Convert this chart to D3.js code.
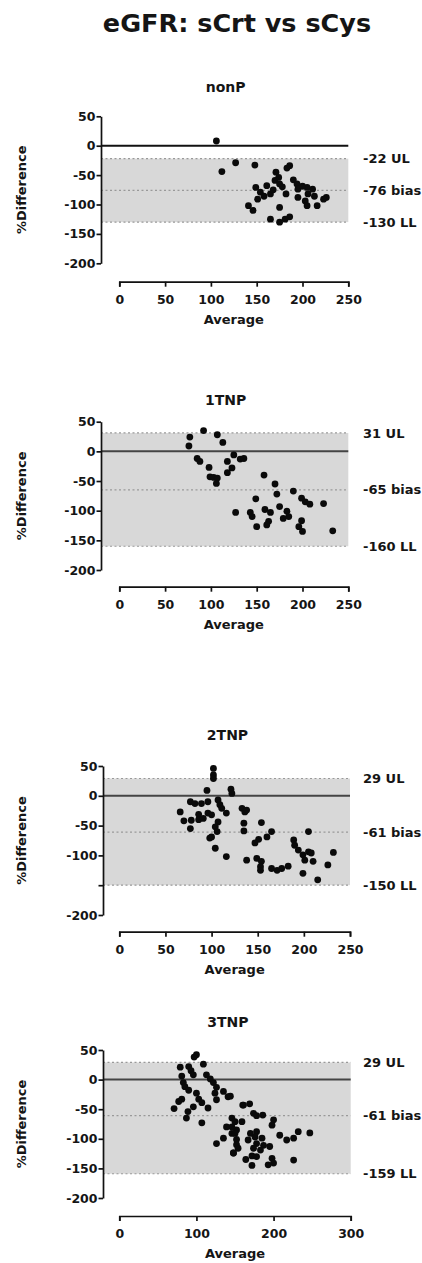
<!DOCTYPE html>
<html lang="en">
<head>
  <meta charset="utf-8">
  <title>eGFR: sCrt vs sCys</title>
  <script src="https://d3js.org/d3.v7.min.js"></script>
  <style>
    body { margin: 0; background: #fff; }
    svg text { font-family: "DejaVu Sans", Verdana, sans-serif; font-weight: bold; fill: #151515; }
    .tick text { font-size: 12.5px; }
    .axis path, .axis line { stroke: #111; stroke-width: 1.7; }
  </style>
</head>
<body>
<svg width="422" height="1263"></svg>
<script>
  // panel names and agreement limits (UL, bias, LL)
  var panelNames = ["nonP", "1TNP", "2TNP", "3TNP"];
  var upperLimits = [-22, 31, 29, 29];
  var biasValues = [-76, -65, -61, -61];
  var lowerLimits = [-130, -160, -150, -159];
  var yTicks = [50, 0, -50, -100, -150, -200];
  var xTicks250 = [0, 50, 100, 150, 200, 250];
  var xTicks300 = [0, 100, 200, 300];

  // Average / %Difference pairs
  var nonP_avg = [106, 112, 127, 148, 186, 183, 171, 174, 170, 175, 161, 149, 154, 165, 182, 194, 195, 205, 211, 206,
                  195, 226, 223, 151, 203, 216, 205, 141, 146, 175, 165, 175, 186, 181, 168, 158, 190, 213, 200, 178];
  var nonP_diff = [8, -44, -29, -33, -34, -38, -45, -54, -59, -65, -68, -71, -79, -82, -82, -65, -74, -71, -74, -82,
                   -88, -88, -91, -91, -94, -102, -102, -102, -110, -105, -125, -130, -121, -125, -75, -86, -58, -86, -69, -70];

  var tnp1_avg = [77, 76, 92, 107, 113, 85, 88, 98, 99, 103, 107, 106, 125, 118, 132, 136, 123, 118, 158, 170, 172,
                  190, 199, 203, 208, 223, 149, 175, 127, 143, 145, 159, 165, 183, 179, 185, 163, 161, 150, 199, 196, 200, 233];
  var tnp1_diff = [24, 9, 35, 28, 15, -12, -17, -27, -43, -44, -45, -54, -6, -17, -13, -12, -28, -36, -40, -55, -72,
                   -67, -79, -85, -89, -88, -80, -93, -103, -103, -110, -98, -103, -101, -113, -110, -118, -124, -127, -117, -127, -135, -134];

  var tnp2_avg = [102, 102, 102, 95, 121, 122, 77, 82, 89, 96, 107, 109, 111, 133, 136, 66, 96, 86, 116, 70, 78, 86, 91,
                  100, 107, 77, 104, 106, 100, 98, 104, 116, 135, 135, 138, 138, 154, 165, 160, 151, 147, 149, 154, 153, 153,
                  165, 171, 176, 183, 205, 189, 190, 194, 199, 205, 208, 210, 201, 199, 215, 226, 232];
  var tnp2_diff = [46, 35, 29, 9, 11, 4, -10, -13, -13, -10, -7, -15, -21, -21, -27, -27, -29, -31, -29, -42, -41, -40, -38,
                   -32, -44, -55, -52, -60, -69, -71, -88, -102, -46, -59, -108, -24, -45, -60, -69, -73, -79, -105, -110, -119, -125,
                   -122, -125, -122, -118, -60, -74, -83, -91, -99, -94, -96, -110, -108, -130, -141, -116, -95];

  var tnp3_avg = [100, 97, 109, 79, 90, 93, 81, 96, 113, 118, 122, 83, 85, 90, 126, 124, 135, 100, 103, 141, 126, 81, 77,
                  107, 115, 96, 71, 89, 87, 107, 160, 144, 161, 169, 174, 178, 186, 200, 198, 146, 150, 159, 152, 146, 170,
                  178, 176, 185, 167, 152, 146, 208, 217, 226, 232, 247, 178, 187, 195, 174, 183, 154, 148, 172, 178, 164, 198,
                  200, 193, 172, 226, 139, 126, 135, 150, 148, 152];
  var tnp3_diff = [42, 38, 26, 21, 22, 15, 6, 8, 8, 1, -5, -5, -12, -18, -13, -23, -20, -23, -33, -29, -34, -33, -37,
                   -39, -48, -46, -49, -54, -65, -73, -43, -28, -43, -41, -57, -61, -60, -68, -77, -65, -71, -71, -85, -80, -91,
                   -88, -97, -99, -102, -101, -91, -94, -102, -99, -88, -90, -108, -111, -113, -116, -119, -116, -124, -129, -130, -135, -133,
                   -141, -144, -145, -136, -80, -108, -99, -91, -124, -110];

  var panelAvg = [nonP_avg, tnp1_avg, tnp2_avg, tnp3_avg];
  var panelDiff = [nonP_diff, tnp1_diff, tnp2_diff, tnp3_diff];

  // layout of each panel on the page
  var layout = [
    {top: 116.3, bottom: 263.3, axisX: 101, xAxisY: 281.7, x0: 119.3, xEnd: 348.3, xMax: 250, ticks: xTicks250, titleY: 91.5, hide: null},
    {top: 421.7, bottom: 570,   axisX: 101, xAxisY: 586.7, x0: 119.3, xEnd: 348.3, xMax: 250, ticks: xTicks250, titleY: 405, hide: null},
    {top: 766,   bottom: 915,   axisX: 103, xAxisY: 931.7, x0: 119.3, xEnd: 350,   xMax: 250, ticks: xTicks250, titleY: 740, hide: -150},
    {top: 1050,  bottom: 1198,  axisX: 103, xAxisY: 1216,  x0: 119.3, xEnd: 350.7, xMax: 300, ticks: xTicks300, titleY: 1027, hide: null}
  ];

  var svg = d3.select("svg");

  svg.append("text")
      .attr("x", 237)
      .attr("y", 32)
      .attr("text-anchor", "middle")
      .style("font-size", "25.5px")
      .text("eGFR: sCrt vs sCys");

  panelNames.forEach(function(name, i) {
    var L = layout[i];
    var g = svg.append("g");

    var xScale = d3.scaleLinear()
        .domain([0, L.xMax])
        .range([L.x0, L.xEnd]);
    var yScale = d3.scaleLinear()
        .domain([-200, 50])
        .range([L.bottom, L.top]);

    // shaded band between the limits
    g.append("rect")
        .attr("x", L.axisX)
        .attr("y", yScale(upperLimits[i]))
        .attr("width", xScale(L.xMax) - L.axisX)
        .attr("height", yScale(lowerLimits[i]) - yScale(upperLimits[i]))
        .attr("fill", "#d8d8d8");

    [upperLimits[i], biasValues[i], lowerLimits[i]].forEach(function(v) {
      g.append("line")
          .attr("x1", L.axisX).attr("x2", xScale(L.xMax))
          .attr("y1", yScale(v)).attr("y2", yScale(v))
          .attr("stroke", "#999")
          .attr("stroke-width", 1.2)
          .attr("stroke-dasharray", "2,2.5");
    });

    g.append("line")
        .attr("x1", L.axisX).attr("x2", xScale(L.xMax))
        .attr("y1", yScale(0)).attr("y2", yScale(0))
        .attr("stroke", i == 0 ? "#111" : "#444")
        .attr("stroke-width", 2);

    g.selectAll(".dot")
        .data(panelAvg[i])
        .enter().append("circle")
        .attr("class", "dot")
        .attr("cx", function(d) { return xScale(d); })
        .attr("cy", function(d, j) { return yScale(panelDiff[i][j]); })
        .attr("r", 3.4)
        .attr("fill", "#0a0a0a");

    // y axis sits at the left edge of the band
    var yAxis = d3.axisLeft(yScale)
        .tickValues(yTicks)
        .tickSizeInner(4.5)
        .tickSizeOuter(0)
        .tickPadding(1)
        .tickFormat(function(d) { return d === L.hide ? "" : d; });
    g.append("g")
        .attr("class", "axis")
        .attr("transform", "translate(" + L.axisX + ",0)")
        .call(yAxis);

    var xAxis = d3.axisBottom(xScale)
        .tickValues(L.ticks)
        .tickSizeInner(5)
        .tickSizeOuter(5)
        .tickPadding(8);
    g.append("g")
        .attr("class", "axis")
        .attr("transform", "translate(0," + L.xAxisY + ")")
        .call(xAxis);

    g.append("text")
        .attr("x", (L.axisX + L.xEnd) / 2 + 1)
        .attr("y", L.titleY)
        .attr("text-anchor", "middle")
        .style("font-size", "14px")
        .text(name);

    g.append("text")
        .attr("x", (L.x0 + L.xEnd) / 2)
        .attr("y", L.xAxisY + 42)
        .attr("text-anchor", "middle")
        .style("font-size", "13px")
        .text("Average");

    g.append("text")
        .attr("transform", "translate(26," + ((L.top + L.bottom) / 2) + ") rotate(-90)")
        .attr("text-anchor", "middle")
        .style("font-size", "13px")
        .text("%Difference");

    var labels = [upperLimits[i] + " UL", biasValues[i] + " bias", lowerLimits[i] + " LL"];
    [upperLimits[i], biasValues[i], lowerLimits[i]].forEach(function(v, k) {
      g.append("text")
          .attr("x", 363)
          .attr("y", yScale(v))
          .attr("dy", "0.35em")
          .style("font-size", "13px")
          .text(labels[k]);
    });
  });
</script>
</body>
</html>
